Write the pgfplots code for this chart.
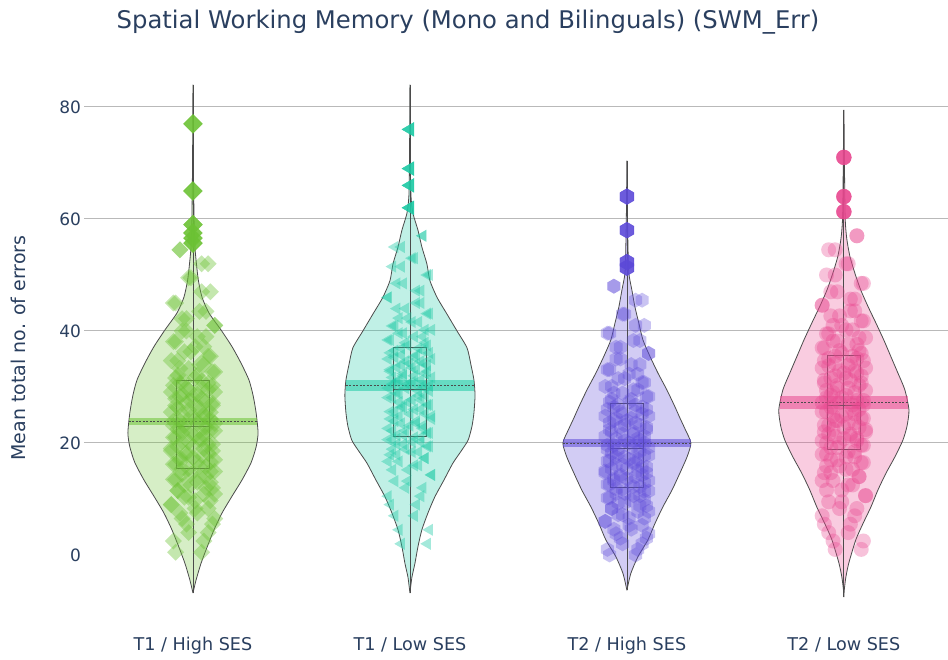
\documentclass[border=0pt]{standalone}
\usepackage{pgfplots}
\usepackage{pgfplotstable}
\pgfplotsset{compat=1.18}
\usepackage{fontspec}
\setmainfont{DejaVu Sans}
\definecolor{gcol}{RGB}{108,194,52}
\definecolor{tcol}{RGB}{28,201,164}
\definecolor{pcol}{RGB}{92,73,216}
\definecolor{kcol}{RGB}{232,71,143}
\definecolor{navy}{RGB}{42,63,95}
\definecolor{outl}{RGB}{75,75,75}
\definecolor{gridc}{RGB}{185,185,185}
\pgfdeclareplotmark{hexagon*}{%
  \pgfpathmoveto{\pgfpointpolar{90}{\pgfplotmarksize}}%
  \pgfpathlineto{\pgfpointpolar{150}{\pgfplotmarksize}}%
  \pgfpathlineto{\pgfpointpolar{210}{\pgfplotmarksize}}%
  \pgfpathlineto{\pgfpointpolar{270}{\pgfplotmarksize}}%
  \pgfpathlineto{\pgfpointpolar{330}{\pgfplotmarksize}}%
  \pgfpathlineto{\pgfpointpolar{30}{\pgfplotmarksize}}%
  \pgfpathclose
  \pgfusepathqfillstroke}
\pgfplotstableread{
dx dxb g t p k
-0.08 0.04 0.5 2 0 1
0.05 -0.09 2.5 4.5 1 2.5
-0.02 0.07 4 7 2 4
0.09 -0.03 5.5 9 3 5.5
-0.05 0.10 6.5 10.5 3.8 7
0.02 -0.06 7.5 12 4.6 8.3
0.07 0.01 8.3 13.2 5.3 9.5
-0.10 -0.10 9 14.3 6 10.6
0.01 0.08 9.7 15.2 6.6 11.6
-0.04 -0.02 10.3 16 7.2 12.5
0.10 0.05 10.9 16.7 7.8 13.3
-0.07 -0.07 11.5 17.3 8.3 14
0.06 0.09 12 17.9 8.8 14.7
-0.01 -0.04 12.5 18.4 9.3 15.3
0.08 0.02 13 18.9 9.8 15.9
-0.09 -0.08 13.5 19.4 10.2 16.5
0.03 0.06 14 19.8 10.6 17
-0.05 -0.01 14.4 20.2 11 17.5
0.08 0.10 14.9 20.6 11.4 18
-0.02 -0.05 15.4 21 11.8 18.5
0.06 0.03 15.8 21.4 12.2 19.2
-0.08 -0.09 16.2 21.8 12.6 19.6
0.02 0.08 16.6 22.2 12.9 20
0.10 -0.06 17 22.6 13.3 20.4
-0.06 0.00 17.4 23.1 13.6 20.8
0.04 -0.03 17.8 23.5 14 21.2
-0.03 0.07 18.2 23.9 14.3 21.6
0.09 -0.10 18.6 24.3 14.7 22
-0.10 0.05 19 24.8 15 22.4
0.00 -0.07 19.4 25.2 15.4 22.8
0.07 0.09 19.8 25.6 15.7 23.2
-0.05 -0.02 20.2 26 16.1 23.6
0.03 0.04 20.6 26.4 16.4 24
-0.09 -0.08 21 26.8 16.8 24.4
0.05 0.01 21.4 27.3 17.1 24.8
-0.01 -0.05 21.8 27.7 17.5 25.2
0.08 0.10 22.2 28.1 17.8 25.6
-0.07 -0.04 22.5 28.5 18.2 26
0.05 0.06 22.8 28.9 18.5 26.4
-0.04 -0.09 23.1 29.3 18.9 26.8
0.10 0.02 23.5 29.8 19.2 27.2
-0.09 -0.06 23.9 30.2 19.6 27.6
0.01 0.08 24.3 30.5 20 28.1
0.06 -0.01 24.7 30.9 20.4 28.5
-0.05 0.05 25.1 31.3 20.8 29
0.08 -0.10 25.5 31.7 21.2 29.4
-0.02 0.03 25.9 32 21.6 29.8
0.03 -0.07 26.3 32.4 22 30.3
-0.08 0.09 26.7 32.8 22.4 30.7
0.09 -0.03 27.1 33.1 22.8 31.2
-0.01 0.06 27.5 33.5 23.2 31.6
0.04 -0.08 27.9 33.9 23.6 32
-0.06 0.00 28.3 34.2 24 32.5
0.02 -0.05 28.7 34.6 24.4 32.9
-0.10 0.10 29.1 35 24.8 33.4
0.07 -0.02 29.5 35.3 25.2 33.8
-0.03 0.04 29.9 35.7 25.6 34.2
0.09 -0.09 30.3 36.1 26 34.7
-0.06 0.07 30.7 36.5 26.4 35.1
0.04 -0.04 31.1 36.9 26.8 35.5
-0.08 0.01 31.6 37.4 27.3 36
0.02 -0.07 32.1 37.9 27.8 36.5
0.10 0.09 32.7 38.4 28.3 37
-0.02 -0.06 33.3 39 28.9 37.6
0.05 0.03 34 39.6 29.5 38.2
-0.07 -0.10 34.7 40.2 30.1 38.8
0.07 0.08 35.5 40.9 30.8 39.5
-0.04 -0.01 36.3 41.6 31.5 40.2
0.01 0.05 37.2 42.3 32.3 41
-0.09 -0.08 38.1 43.1 33.1 41.8
0.06 0.02 39 44 34 42.7
-0.05 -0.03 40 45 35 43.6
0.10 0.10 41 46 36 44.6
-0.03 -0.05 42.2 47.2 37.1 45.7
0.03 0.06 43.5 48.5 38.3 47
-0.08 -0.09 45 50 39.6 48.5
0.08 0.04 47 51.5 41 50
-0.01 -0.02 49.5 53 43 52
0.04 0.07 52 55 45.5 54.5
-0.06 -0.06 54.5 57 48 57
}\pts
\begin{document}
\begin{tikzpicture}
\begin{axis}[
  at={(0,0)}, anchor=south west,
  scale only axis, width=863.5pt, height=532pt,
  xmin=-0.5, xmax=3.48, ymin=-10, ymax=85,
  axis line style={draw=none},
  major tick length=0pt,
  xtick={0,1,2,3},
  xticklabels={T1 / High SES, T1 / Low SES, T2 / High SES, T2 / Low SES},
  ytick={20,40,60,80}, extra y ticks={0}, extra y tick style={grid=none},
  ymajorgrids, major grid style={draw=gridc, line width=1pt},
  ticklabel style={font=\fontsize{17}{20}\selectfont, text=navy},
  xticklabel style={font=\fontsize{17.6}{20}\selectfont, anchor=base, yshift=-40pt},
  /pgf/number format/assume math mode=true,
  clip=false,
]
% ---------- T1 / High SES ----------
\addplot[smooth, tension=0.4, fill=gcol, fill opacity=0.28, draw=outl, line width=0.8pt] coordinates {
(0,-6.8) (0.014,-4.5) (0.037,-1.5) (0.065,1.4) (0.097,4.5) (0.134,7.5) (0.18,10.5) (0.226,13.4) (0.268,16.5) (0.291,19.3) (0.30,21.8) (0.291,25.4) (0.277,28.5) (0.258,31.25) (0.221,34.3) (0.18,37.2) (0.129,40.2) (0.074,43.2) (0.042,46) (0.025,49) (0.016,52) (0.009,55) (0.005,60) (0.002,70) (0,84)
(-0.002,70) (-0.005,60) (-0.009,55) (-0.016,52) (-0.025,49) (-0.042,46) (-0.074,43.2) (-0.129,40.2) (-0.18,37.2) (-0.221,34.3) (-0.258,31.25) (-0.277,28.5) (-0.291,25.4) (-0.30,21.8) (-0.291,19.3) (-0.268,16.5) (-0.226,13.4) (-0.18,10.5) (-0.134,7.5) (-0.097,4.5) (-0.065,1.4) (-0.037,-1.5) (-0.014,-4.5) (0,-6.8)};
\addplot[draw=gcol, opacity=0.55, line width=7pt] coordinates {(-0.296,23.8) (0.296,23.8)};
\addplot[only marks, mark=square*, mark size=6pt, mark options={rotate=45, fill=gcol, fill opacity=0.4, draw opacity=0}] table[x expr=\thisrow{dx}, y=g] {\pts};
\addplot[only marks, mark=square*, mark size=6pt, mark options={rotate=45, fill=gcol, fill opacity=0.4, draw opacity=0}] table[x expr=\thisrow{dxb}, y=g] {\pts};
\addplot[draw=outl, line width=0.8pt] coordinates {(0,-6.8) (0,84)};
\addplot[draw=outl, line width=0.8pt] coordinates {(-0.076,15.4) (0.076,15.4) (0.076,31.1) (-0.076,31.1)} -- cycle;
\addplot[draw=outl, line width=0.8pt] coordinates {(-0.076,23.0) (0.076,23.0)};
\addplot[draw=outl, line width=0.8pt, dash pattern=on 2pt off 1.5pt] coordinates {(-0.296,23.8) (0.296,23.8)};
\addplot[only marks, mark=square*, mark size=6.7pt, mark options={rotate=45, fill=gcol, draw=gcol, opacity=0.9}] coordinates {(0,77) (0,65) (0,59) (0,57.5) (0,56.6) (0,55.7)};
% ---------- T1 / Low SES ----------
\addplot[smooth, tension=0.4, fill=tcol, fill opacity=0.28, draw=outl, line width=0.8pt] coordinates {
(1,-6.8) (1.009,-4) (1.023,-1.5) (1.037,1.5) (1.055,4.5) (1.083,7.5) (1.115,10.4) (1.157,13.4) (1.198,16.4) (1.235,18.5) (1.268,20.5) (1.286,23) (1.295,25.4) (1.30,28.5) (1.295,31.25) (1.281,34) (1.263,37) (1.217,40) (1.171,43) (1.125,46) (1.092,49) (1.078,52) (1.055,55) (1.037,58) (1.014,61) (1.005,64) (1.002,70) (1,84)
(0.998,70) (0.995,64) (0.986,61) (0.963,58) (0.945,55) (0.922,52) (0.908,49) (0.875,46) (0.829,43) (0.783,40) (0.737,37) (0.719,34) (0.705,31.25) (0.70,28.5) (0.705,25.4) (0.714,23) (0.732,20.5) (0.765,18.5) (0.802,16.4) (0.843,13.4) (0.885,10.4) (0.917,7.5) (0.945,4.5) (0.963,1.5) (0.977,-1.5) (0.991,-4) (1,-6.8)};
\addplot[draw=tcol, opacity=0.55, line width=11pt] coordinates {(0.703,30.2) (1.297,30.2)};
\addplot[only marks, mark=triangle*, mark size=7pt, mark options={rotate=90, fill=tcol, fill opacity=0.4, draw opacity=0}] table[x expr=1-\thisrow{dx}, y=t] {\pts};
\addplot[only marks, mark=triangle*, mark size=7pt, mark options={rotate=90, fill=tcol, fill opacity=0.4, draw opacity=0}] table[x expr=1-\thisrow{dxb}, y=t] {\pts};
\addplot[draw=outl, line width=0.8pt] coordinates {(1,-6.8) (1,84)};
\addplot[draw=outl, line width=0.8pt] coordinates {(0.924,21.1) (1.076,21.1) (1.076,37.0) (0.924,37.0)} -- cycle;
\addplot[draw=outl, line width=0.8pt] coordinates {(0.924,29.6) (1.076,29.6)};
\addplot[draw=outl, line width=0.8pt, dash pattern=on 2pt off 1.5pt] coordinates {(0.703,30.2) (1.297,30.2)};
\addplot[only marks, mark=triangle*, mark size=8pt, mark options={rotate=90, fill=tcol, draw=tcol, opacity=0.9}] coordinates {(1,76) (1,69) (1,66) (1,62)};
% ---------- T2 / High SES ----------
\addplot[smooth, tension=0.4, fill=pcol, fill opacity=0.28, draw=outl, line width=0.8pt] coordinates {
(2,-6.3) (2.018,-3.3) (2.051,-0.3) (2.097,2.7) (2.129,5.6) (2.166,8.6) (2.208,11.6) (2.244,14.6) (2.277,17.5) (2.295,20) (2.268,22.5) (2.244,24.5) (2.221,26.5) (2.184,29.5) (2.143,32.5) (2.106,35.5) (2.074,38.4) (2.055,41.4) (2.037,44.3) (2.023,47.3) (2.009,50.3) (2.005,55) (2.002,62) (2,70.4)
(1.998,62) (1.995,55) (1.991,50.3) (1.977,47.3) (1.963,44.3) (1.945,41.4) (1.926,38.4) (1.894,35.5) (1.857,32.5) (1.816,29.5) (1.779,26.5) (1.756,24.5) (1.732,22.5) (1.705,20) (1.723,17.5) (1.756,14.6) (1.792,11.6) (1.834,8.6) (1.871,5.6) (1.903,2.7) (1.949,-0.3) (1.982,-3.3) (2,-6.3)};
\addplot[draw=pcol, opacity=0.55, line width=8pt] coordinates {(1.705,20.0) (2.295,20.0)};
\addplot[only marks, mark=hexagon*, mark size=7.5pt, mark options={fill=pcol, fill opacity=0.33, draw opacity=0}] table[x expr=2+\thisrow{dx}, y=p] {\pts};
\addplot[only marks, mark=hexagon*, mark size=7.5pt, mark options={fill=pcol, fill opacity=0.33, draw opacity=0}] table[x expr=2+\thisrow{dxb}, y=p] {\pts};
\addplot[draw=outl, line width=0.8pt] coordinates {(2,-6.3) (2,70.4)};
\addplot[draw=outl, line width=0.8pt] coordinates {(1.924,12.0) (2.076,12.0) (2.076,27.1) (1.924,27.1)} -- cycle;
\addplot[draw=outl, line width=0.8pt] coordinates {(1.924,19.1) (2.076,19.1)};
\addplot[draw=outl, line width=0.8pt, dash pattern=on 2pt off 1.5pt] coordinates {(1.705,20.0) (2.295,20.0)};
\addplot[only marks, mark=hexagon*, mark size=8pt, mark options={fill=pcol, draw=pcol, opacity=0.9}] coordinates {(2,64) (2,58) (2,52.3) (2,51.3)};
% ---------- T2 / Low SES ----------
\addplot[smooth, tension=0.4, fill=kcol, fill opacity=0.28, draw=outl, line width=0.8pt] coordinates {
(3,-7.5) (3.002,-6.2) (3.009,-4) (3.023,-1.4) (3.055,2.7) (3.088,5.6) (3.125,8.6) (3.157,11.6) (3.194,14.6) (3.235,17.5) (3.272,20.5) (3.291,23) (3.30,25.9) (3.281,29.5) (3.249,32.5) (3.217,35.4) (3.184,38.4) (3.148,41.4) (3.111,44.4) (3.078,47.3) (3.051,50.3) (3.028,53.3) (3.014,56.3) (3.007,59.3) (3.004,65) (3,79.5)
(2.996,65) (2.993,59.3) (2.986,56.3) (2.972,53.3) (2.949,50.3) (2.922,47.3) (2.889,44.4) (2.852,41.4) (2.816,38.4) (2.783,35.4) (2.751,32.5) (2.719,29.5) (2.70,25.9) (2.709,23) (2.728,20.5) (2.765,17.5) (2.806,14.6) (2.843,11.6) (2.875,8.6) (2.912,5.6) (2.945,2.7) (2.977,-1.4) (2.991,-4) (2.998,-6.2) (3,-7.5)};
\addplot[draw=kcol, opacity=0.55, line width=13pt] coordinates {(2.705,27.3) (3.295,27.3)};
\addplot[only marks, mark=*, mark size=7.5pt, mark options={fill=kcol, fill opacity=0.33, draw opacity=0}] table[x expr=3-\thisrow{dx}, y=k] {\pts};
\addplot[only marks, mark=*, mark size=7.5pt, mark options={fill=kcol, fill opacity=0.33, draw opacity=0}] table[x expr=3-\thisrow{dxb}, y=k] {\pts};
\addplot[draw=outl, line width=0.8pt] coordinates {(3,-7.5) (3,79.5)};
\addplot[draw=outl, line width=0.8pt] coordinates {(2.924,18.9) (3.076,18.9) (3.076,35.6) (2.924,35.6)} -- cycle;
\addplot[draw=outl, line width=0.8pt] coordinates {(2.924,26.8) (3.076,26.8)};
\addplot[draw=outl, line width=0.8pt, dash pattern=on 2pt off 1.5pt] coordinates {(2.705,27.3) (3.295,27.3)};
\addplot[only marks, mark=*, mark size=7.5pt, mark options={fill=kcol, draw=kcol, opacity=0.9}] coordinates {(3,71) (3,64) (3,61.3)};
\end{axis}
\node[font=\fontsize{24.3}{28}\selectfont, text=navy] at (383.5pt,589pt) {Spatial Working Memory (Mono and Bilinguals) (SWM\_Err)};
\node[rotate=90, font=\fontsize{19}{22}\selectfont, text=navy] at (-66.5pt,263pt) {Mean total no. of errors};
\pgfresetboundingbox
\useasboundingbox (-84.5pt,-49pt) rectangle (863.5pt,611pt);
\end{tikzpicture}
\end{document}
